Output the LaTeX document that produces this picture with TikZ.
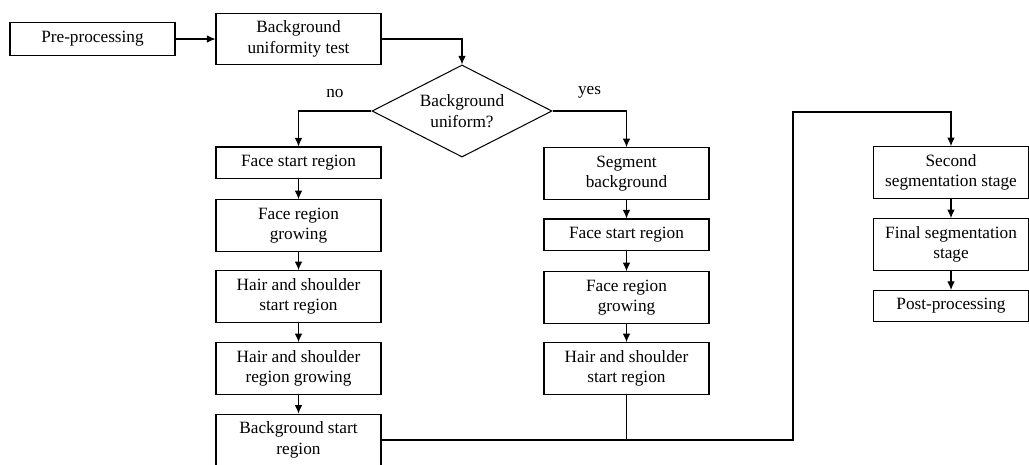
\documentclass[tikz,border=0pt]{standalone}
\usepackage{fontspec}
\setmainfont{Liberation Serif}
\usetikzlibrary{shapes.geometric,arrows.meta}

\tikzset{
  stepbox/.style={draw,line width=0.6pt,align=center,inner sep=1pt,
    minimum width=95.7pt,minimum height=18pt},
  twoline/.style={stepbox,minimum height=30pt},
  arr/.style={-{Latex[length=5pt,width=4.4pt]},line width=0.6pt},
}

\begin{document}
\begin{tikzpicture}[x=0.58pt,y=-0.58pt,font=\fontsize{10}{12}\selectfont]
        \useasboundingbox(0,0)rectangle(1029,464);

        \node[stepbox,minimum height=18.6pt](pre)at(92.5,39){Pre-processing};
        \node[twoline](test)at(298.5,39){Background\\uniformity test};
        \node[draw,line width=0.6pt,diamond,aspect=2,inner sep=0pt,align=center,
          minimum width=104.4pt,minimum height=53.4pt](uni)at(462,111){Background\\uniform?};

        % no branch
        \node[stepbox](fsrA)at(298.5,162.5){Face start region};
        \node[twoline](frgA)at(298.5,225.5){Face region\\growing};
        \node[twoline](hssA)at(298.5,296.5){Hair and shoulder\\start region};
        \node[twoline](hsg)at(298.5,368.5){Hair and shoulder\\region growing};
        \node[twoline](bsr)at(298.5,440){Background start\\region};

        % yes branch
        \node[twoline](seg)at(626.5,173.5){Segment\\background};
        \node[stepbox](fsrB)at(626.5,234.5){Face start region};
        \node[twoline](frgB)at(626.5,297.5){Face region\\growing};
        \node[twoline](hssB)at(626.5,368.5){Hair and shoulder\\start region};

        % last stages
        \node[twoline,minimum width=90pt](sec)at(951,172.5){Second\\segmentation stage};
        \node[twoline,minimum width=90pt](fin)at(951,244.5){Final segmentation\\stage};
        \node[stepbox,minimum width=90pt](post)at(951,306){Post-processing};

        \draw[arr](pre)--(test);
        \draw[arr](test.east)-|(uni.north);
        \draw[arr](uni.west)-|node[pos=0.25,above=4pt]{no}(fsrA.north);
        \draw[arr](uni.east)-|node[pos=0.25,above=4pt]{yes}(seg.north);

        \draw[arr](fsrA)--(frgA);
        \draw[arr](frgA)--(hssA);
        \draw[arr](hssA)--(hsg);
        \draw[arr](hsg)--(bsr);

        \draw[arr](seg)--(fsrB);
        \draw[arr](fsrB)--(frgB);
        \draw[arr](frgB)--(hssB);

        \coordinate(turn)at(793,112);
        \draw[line width=0.6pt](hssB.south)--(hssB.south|-bsr.east);
        \draw[arr](bsr.east)-|(turn)-|(sec.north);

        \draw[arr](sec)--(fin);
        \draw[arr](fin)--(post);
    \end{tikzpicture}
\end{document}
